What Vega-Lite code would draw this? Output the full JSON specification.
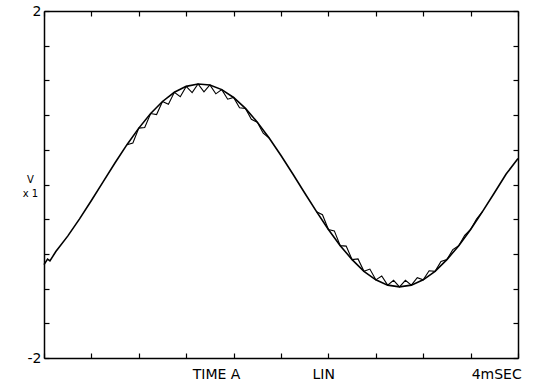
{
  "$schema": "https://vega.github.io/schema/vega-lite/v6.json",
  "width": 474,
  "height": 347,
  "autosize": {"type": "none"},
  "padding": {"left": 44, "top": 11, "right": 20, "bottom": 34},
  "background": "white",
  "config": {
    "view": {"stroke": null},
    "axis": {"domainColor": "black", "domainWidth": 1.5, "tickColor": "black", "tickWidth": 1.2, "grid": false, "labelColor": "black", "titleColor": "black", "labelFont": "DejaVu Sans", "titleFont": "DejaVu Sans"}
  },
  "datasets": {
    "smooth": [
      {"t": 0.0, "v": -0.923}, {"t": 0.03, "v": -0.86}, {"t": 0.05, "v": -0.88}, {"t": 0.1, "v": -0.773}, {"t": 0.2, "v": -0.595},
      {"t": 0.3, "v": -0.396}, {"t": 0.4, "v": -0.184}, {"t": 0.5, "v": 0.034}, {"t": 0.6, "v": 0.251},
      {"t": 0.7, "v": 0.459}, {"t": 0.8, "v": 0.65}, {"t": 0.9, "v": 0.818}, {"t": 1.0, "v": 0.957},
      {"t": 1.1, "v": 1.063}, {"t": 1.2, "v": 1.131}, {"t": 1.3, "v": 1.159}, {"t": 1.4, "v": 1.147},
      {"t": 1.5, "v": 1.094}, {"t": 1.6, "v": 1.003}, {"t": 1.7, "v": 0.877}, {"t": 1.8, "v": 0.719},
      {"t": 1.9, "v": 0.536}, {"t": 2.0, "v": 0.334}, {"t": 2.1, "v": 0.121}, {"t": 2.2, "v": -0.098},
      {"t": 2.3, "v": -0.313}, {"t": 2.4, "v": -0.518}, {"t": 2.5, "v": -0.705}, {"t": 2.6, "v": -0.866},
      {"t": 2.7, "v": -1.001}, {"t": 2.8, "v": -1.099}, {"t": 2.9, "v": -1.16}, {"t": 3.0, "v": -1.18},
      {"t": 3.1, "v": -1.16}, {"t": 3.2, "v": -1.099}, {"t": 3.3, "v": -1.001}, {"t": 3.4, "v": -0.866},
      {"t": 3.5, "v": -0.705}, {"t": 3.6, "v": -0.518}, {"t": 3.7, "v": -0.313}, {"t": 3.8, "v": -0.098},
      {"t": 3.9, "v": 0.121}, {"t": 4.0, "v": 0.3}
    ],
    "ripple": [
      {"seg": "r1", "t": 0.70, "v": 0.459}, {"seg": "r1", "t": 0.75, "v": 0.478}, {"seg": "r1", "t": 0.80, "v": 0.650},
      {"seg": "r1", "t": 0.85, "v": 0.657}, {"seg": "r1", "t": 0.90, "v": 0.818}, {"seg": "r1", "t": 0.95, "v": 0.806},
      {"seg": "r1", "t": 1.00, "v": 0.957}, {"seg": "r1", "t": 1.05, "v": 0.924}, {"seg": "r1", "t": 1.10, "v": 1.063},
      {"seg": "r1", "t": 1.15, "v": 1.011}, {"seg": "r1", "t": 1.20, "v": 1.131}, {"seg": "r1", "t": 1.25, "v": 1.060},
      {"seg": "r1", "t": 1.30, "v": 1.159}, {"seg": "r1", "t": 1.35, "v": 1.068}, {"seg": "r1", "t": 1.40, "v": 1.147},
      {"seg": "r1", "t": 1.45, "v": 1.045}, {"seg": "r1", "t": 1.50, "v": 1.094}, {"seg": "r1", "t": 1.55, "v": 0.983},
      {"seg": "r1", "t": 1.60, "v": 1.003}, {"seg": "r1", "t": 1.65, "v": 0.884}, {"seg": "r1", "t": 1.70, "v": 0.877},
      {"seg": "r1", "t": 1.75, "v": 0.751}, {"seg": "r1", "t": 1.80, "v": 0.719}, {"seg": "r1", "t": 1.85, "v": 0.591},
      {"seg": "r1", "t": 1.90, "v": 0.536},
      {"seg": "r2", "t": 2.30, "v": -0.313}, {"seg": "r2", "t": 2.35, "v": -0.348}, {"seg": "r2", "t": 2.40, "v": -0.518},
      {"seg": "r2", "t": 2.45, "v": -0.535}, {"seg": "r2", "t": 2.50, "v": -0.705}, {"seg": "r2", "t": 2.55, "v": -0.710},
      {"seg": "r2", "t": 2.60, "v": -0.866}, {"seg": "r2", "t": 2.65, "v": -0.858}, {"seg": "r2", "t": 2.70, "v": -1.001},
      {"seg": "r2", "t": 2.75, "v": -0.975}, {"seg": "r2", "t": 2.80, "v": -1.099}, {"seg": "r2", "t": 2.85, "v": -1.055},
      {"seg": "r2", "t": 2.90, "v": -1.160}, {"seg": "r2", "t": 2.95, "v": -1.105}, {"seg": "r2", "t": 3.00, "v": -1.180},
      {"seg": "r2", "t": 3.05, "v": -1.105}, {"seg": "r2", "t": 3.10, "v": -1.160}, {"seg": "r2", "t": 3.15, "v": -1.075},
      {"seg": "r2", "t": 3.20, "v": -1.099}, {"seg": "r2", "t": 3.25, "v": -0.995}, {"seg": "r2", "t": 3.30, "v": -1.001},
      {"seg": "r2", "t": 3.35, "v": -0.888}, {"seg": "r2", "t": 3.40, "v": -0.866}, {"seg": "r2", "t": 3.45, "v": -0.750},
      {"seg": "r2", "t": 3.50, "v": -0.705}, {"seg": "r2", "t": 3.55, "v": -0.585}, {"seg": "r2", "t": 3.60, "v": -0.518},
      {"seg": "r2", "t": 3.65, "v": -0.398}, {"seg": "r2", "t": 3.70, "v": -0.313}
    ],
    "labels": [
      {"t": 1.456, "v": -2, "label": "TIME A"},
      {"t": 2.36, "v": -2, "label": "LIN"},
      {"t": 3.82, "v": -2, "label": "4mSEC"}
    ]
  },
  "resolve": {"axis": {"x": "independent", "y": "independent"}},
  "layer": [
    {
      "data": {"name": "smooth"},
      "mark": {"type": "line", "color": "black", "strokeWidth": 1.6},
      "encoding": {
        "x": {"field": "t", "type": "quantitative", "scale": {"domain": [0, 4], "nice": false, "zero": false},
          "axis": {"orient": "bottom", "values": [0, 0.4, 0.8, 1.2, 1.6, 2.0, 2.4, 2.8, 3.2, 3.6, 4.0], "labels": false, "tickSize": -5, "title": null}},
        "y": {"field": "v", "type": "quantitative", "scale": {"domain": [-2, 2], "nice": false, "zero": false},
          "axis": {"orient": "left", "values": [-2, -1.6, -1.2, -0.8, -0.4, 0, 0.4, 0.8, 1.2, 1.6, 2],
            "labelExpr": "datum.value == 2 ? '2' : (datum.value == -2 ? '-2' : '')",
            "tickSize": -5, "labelPadding": 8, "labelFontSize": 14, "labelFlush": false,
            "title": ["V", "x 1"], "titleAngle": 0, "titleAlign": "center", "titleBaseline": "middle",
            "titleFontSize": 10, "titleFontWeight": "normal", "titleX": -14, "titleY": 168, "titleLineHeight": 14}}
      }
    },
    {
      "data": {"name": "ripple"},
      "mark": {"type": "line", "color": "black", "strokeWidth": 1.1},
      "encoding": {
        "x": {"field": "t", "type": "quantitative",
          "axis": {"orient": "top", "values": [0, 0.4, 0.8, 1.2, 1.6, 2.0, 2.4, 2.8, 3.2, 3.6, 4.0], "labels": false, "tickSize": -5, "title": null}},
        "y": {"field": "v", "type": "quantitative",
          "axis": {"orient": "right", "values": [-2, -1.6, -1.2, -0.8, -0.4, 0, 0.4, 0.8, 1.2, 1.6, 2], "labels": false, "tickSize": -5, "title": null}},
        "detail": {"field": "seg"}
      }
    },
    {
      "data": {"name": "labels"},
      "mark": {"type": "text", "color": "black", "font": "DejaVu Sans", "fontSize": 14, "baseline": "top", "dy": 10},
      "encoding": {
        "x": {"field": "t", "type": "quantitative", "axis": null},
        "y": {"field": "v", "type": "quantitative", "axis": null},
        "text": {"field": "label"}
      }
    }
  ]
}
